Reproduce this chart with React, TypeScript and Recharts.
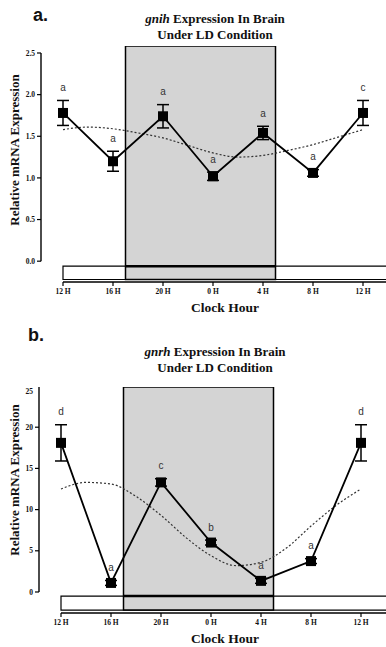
import React from "react";
import {
  ComposedChart,
  Line,
  Scatter,
  XAxis,
  YAxis,
  ErrorBar,
  LabelList,
  ReferenceArea,
  ReferenceLine,
} from "recharts";

// hours after 12 H (noon) where samples were taken
const hours = [0, 4, 8, 12, 16, 20, 24];
const hourLabels = ["12 H", "16 H", "20 H", "0 H", "4 H", "8 H", "12 H"];

// panel a: gnih
const gnihMean = [1.78, 1.2, 1.74, 1.02, 1.54, 1.06, 1.78];
const gnihSem = [0.15, 0.12, 0.14, 0.05, 0.08, 0.04, 0.15];
const gnihLetters = ["a", "a", "a", "a", "a", "a", "c"];
const gnihTicks = [0, 0.5, 1, 1.5, 2, 2.5];

// panel b: gnrh
const gnrhMean = [18.1, 1.1, 13.3, 6.0, 1.35, 3.75, 18.1];
const gnrhSem = [2.2, 0.3, 0.45, 0.3, 0.3, 0.3, 2.2];
const gnrhLetters = ["d", "a", "c", "b", "a", "a", "d"];
const gnrhTicks = [0, 5, 10, 15, 20, 25];

// dotted cosinor fit, every 2 h
const fitHours = [0, 2, 4, 6, 8, 10, 12, 14, 16, 18, 20, 22, 24];
const gnihFit = [1.58, 1.61, 1.59, 1.54, 1.48, 1.39, 1.3, 1.25, 1.27, 1.33, 1.4, 1.49, 1.58];
const gnrhFit = [12.5, 13.3, 13.1, 11.6, 9.3, 6.6, 4.4, 3.2, 3.6, 5.3, 8.0, 10.5, 12.5];

const SERIF = "'Liberation Serif', 'Times New Roman', Times, serif";
const SANS = "'Liberation Sans', Arial, sans-serif";

type PanelProps = {
  height: number;
  mean: number[];
  sem: number[];
  letters: string[];
  fit: number[];
  yTicks: number[];
  yDomain: [number, number];
  barTop: number;
  barBottom: number;
  yFmt: (v: number) => string;
};

const Square = (props: any) => {
  const { cx, cy } = props;
  if (cx == null || cy == null) return null;
  return <rect x={cx - 5} y={cy - 5} width={10} height={10} fill="#000" />;
};

function Panel({ height, mean, sem, letters, fit, yTicks, yDomain, barTop, barBottom, yFmt }: PanelProps) {
  const rows = hours.map((h, i) => ({
    hour: h,
    value: mean[i],
    err: sem[i],
    top: mean[i] + sem[i],
    letter: letters[i],
  }));
  const fitRows = fitHours.map((h, i) => ({ hour: h, fit: fit[i] }));
  const xMin = -1.76;
  const yMax = yTicks[yTicks.length - 1];

  return (
    <ComposedChart
      width={400}
      height={height}
      margin={{ top: 0, right: 0, bottom: 0, left: 0 }}
      data={rows}
    >
      <XAxis
        dataKey="hour"
        type="number"
        domain={[xMin, 26.96]}
        allowDataOverflow
        ticks={hours}
        tickFormatter={(v: number) => hourLabels[hours.indexOf(v)]}
        axisLine={false}
        tickSize={4}
        tickMargin={3}
        height={22}
        tick={{ fontSize: 7.5, fontFamily: SERIF, fontWeight: 700, fill: "#111" }}
        tickLine={{ stroke: "#000", strokeWidth: 1.2 }}
      />
      <YAxis
        type="number"
        domain={yDomain}
        allowDataOverflow
        ticks={yTicks}
        tickFormatter={yFmt}
        axisLine={false}
        width={41}
        tickSize={4}
        tickMargin={2}
        tick={{ fontSize: 7.5, fontFamily: SERIF, fontWeight: 700, fill: "#111" }}
        tickLine={{ stroke: "#000", strokeWidth: 1.2 }}
      />
      <ReferenceArea
        x1={0}
        x2={30}
        y1={barBottom}
        y2={barTop}
        fill="#fff"
        fillOpacity={1}
        stroke="#000"
        strokeWidth={1.2}
        ifOverflow="visible"
      />
      <ReferenceArea
        x1={5}
        x2={17}
        y1={barBottom}
        y2={yDomain[1]}
        fill="#d4d4d4"
        fillOpacity={1}
        stroke="#000"
        strokeWidth={1.5}
        ifOverflow="visible"
      />
      <ReferenceLine
        segment={[{ x: 5, y: barTop }, { x: 17, y: barTop }]}
        stroke="#000"
        strokeWidth={2.5}
        ifOverflow="visible"
      />
      <ReferenceLine
        segment={[{ x: xMin, y: 0 }, { x: xMin, y: yMax }]}
        stroke="#000"
        strokeWidth={1.4}
        ifOverflow="visible"
      />
      <ReferenceLine
        segment={[{ x: 0, y: yDomain[0] }, { x: 30, y: yDomain[0] }]}
        stroke="#000"
        strokeWidth={1.4}
        ifOverflow="visible"
      />
      <Line
        data={fitRows}
        dataKey="fit"
        type="monotone"
        stroke="#333"
        strokeWidth={1.2}
        strokeDasharray="2 2"
        dot={false}
        isAnimationActive={false}
      />
      <Line
        dataKey="value"
        type="linear"
        stroke="#000"
        strokeWidth={1.8}
        dot={<Square />}
        activeDot={false}
        isAnimationActive={false}
      >
        <ErrorBar dataKey="err" width={6} stroke="#000" strokeWidth={1.5} direction="y" />
      </Line>
      <Scatter dataKey="top" fill="#333" shape={() => <g />} isAnimationActive={false}>
        <LabelList
          dataKey="letter"
          position="top"
          offset={5}
          fill="#333"
          stroke="none"
          style={{ fontSize: 10, fontFamily: SANS, fill: "#333" }}
        />
      </Scatter>
    </ComposedChart>
  );
}

const abs = (left: number, top: number): React.CSSProperties => ({
  position: "absolute",
  left,
  top,
});

function Title({ gene, top }: { gene: string; top: number }) {
  return (
    <div
      style={{
        ...abs(105, top),
        width: 220,
        textAlign: "center",
        fontFamily: SERIF,
        fontWeight: 700,
        fontSize: 13,
        lineHeight: "16px",
        color: "#111",
      }}
    >
      <div>
        <i>{gene}</i> Expression In Brain
      </div>
      <div>Under LD Condition</div>
    </div>
  );
}

function YLabel({ centerY }: { centerY: number }) {
  return (
    <div
      style={{
        ...abs(15 - 100, centerY - 8),
        width: 200,
        height: 16,
        textAlign: "center",
        transform: "rotate(-90deg)",
        fontFamily: SERIF,
        fontWeight: 700,
        fontSize: 13,
        lineHeight: "16px",
        color: "#111",
      }}
    >
      Relative mRNA Expression
    </div>
  );
}

function XLabel({ top }: { top: number }) {
  return (
    <div
      style={{
        ...abs(125, top),
        width: 200,
        textAlign: "center",
        fontFamily: SERIF,
        fontWeight: 700,
        fontSize: 13.5,
        lineHeight: "16px",
        color: "#111",
      }}
    >
      Clock Hour
    </div>
  );
}

function PanelTag({ text, left, top }: { text: string; left: number; top: number }) {
  return (
    <div
      style={{
        ...abs(left, top),
        fontFamily: SANS,
        fontWeight: 700,
        fontSize: 18,
        lineHeight: "20px",
        color: "#111",
      }}
    >
      {text}
    </div>
  );
}

export default function App() {
  return (
    <div
      style={{
        position: "fixed",
        left: 0,
        top: 0,
        width: 386,
        height: 647,
        overflow: "hidden",
        background: "#fff",
      }}
    >
      <PanelTag text="a." left={33} top={5} />
      <Title gene="gnih" top={11} />
      <div style={abs(0, 46)}>
        <Panel
          height={258}
          mean={gnihMean}
          sem={gnihSem}
          letters={gnihLetters}
          fit={gnihFit}
          yTicks={gnihTicks}
          yDomain={[-0.25, 2.584]}
          barTop={-0.06}
          barBottom={-0.22}
          yFmt={(v: number) => v.toFixed(1)}
        />
      </div>
      <YLabel centerY={150} />
      <XLabel top={300} />

      <PanelTag text="b." left={28} top={325} />
      <Title gene="gnrh" top={344} />
      <div style={abs(-2, 387)}>
        <Panel
          height={248}
          mean={gnrhMean}
          sem={gnrhSem}
          letters={gnrhLetters}
          fit={gnrhFit}
          yTicks={gnrhTicks}
          yDomain={[-2.55, 24.88]}
          barTop={-0.49}
          barBottom={-2.2}
          yFmt={(v: number) => String(v)}
        />
      </div>
      <YLabel centerY={480} />
      <XLabel top={631} />
    </div>
  );
}
